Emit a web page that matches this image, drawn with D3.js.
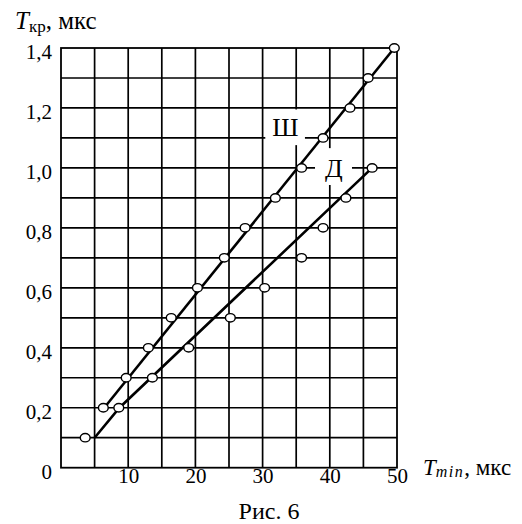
<!DOCTYPE html>
<html>
<head>
<meta charset="utf-8">
<script src="https://cdn.jsdelivr.net/npm/d3@7"></script>
<style>
  html, body { margin: 0; padding: 0; background: #fff; }
  svg text { font-family: "Liberation Serif", "DejaVu Serif", "Times New Roman", Times, serif; }
  .grid line { stroke: #000; stroke-width: 1.7; }
  .frame { fill: none; stroke: #000; stroke-width: 1.8; }
  .fit { fill: none; stroke: #000; stroke-width: 2.6; }
  .pt { fill: #fff; stroke: #000; stroke-width: 1.4; }
  .tick text { fill: #000; }
</style>
</head>
<body>
<svg id="chart" width="522" height="524"></svg>
<script>
// Рис. 6 — T_кр vs T_min, two series (Ш, Д).
const SH_X = [6.3, 9.7, 13.0, 16.4, 20.3, 24.3, 27.4, 31.9, 35.8, 39.0, 43.0, 45.7, 49.6];
const SH_Y = [0.2, 0.3, 0.4, 0.5, 0.6, 0.7, 0.8, 0.9, 1.0, 1.1, 1.2, 1.3, 1.4];
const D_X  = [3.6, 8.6, 13.6, 19.0, 25.2, 30.3, 35.8, 39.0, 42.4, 46.3];
const D_Y  = [0.1, 0.2, 0.3, 0.4, 0.5, 0.6, 0.7, 0.8, 0.9, 1.0];
// hand-drawn fit lines through the points
const SH_FIT = [[6.8, 0.21], [49.6, 1.4]];
const D_FIT  = [[5.0, 0.1], [8.7, 0.2], [46.3, 1.0]];
const X_TICKS = [10, 20, 30, 40, 50];
const Y_TICKS = [0, 0.2, 0.4, 0.6, 0.8, 1.0, 1.2, 1.4];
const SERIES_NAMES = ["Ш", "Д"];

const SERIF = '"Liberation Serif", "DejaVu Serif", "Times New Roman", Times, serif';
const svg = d3.select("#chart");
const x = d3.scaleLinear().domain([0, 50]).range([61, 397]);
const y = d3.scaleLinear().domain([0, 1.4]).range([467.7, 48]);

// grid: every 5 on x, every 0.1 on y
const grid = svg.append("g").attr("class", "grid");
grid.selectAll("line.v").data(d3.range(5, 50, 5)).enter().append("line")
  .attr("x1", d => x(d)).attr("x2", d => x(d)).attr("y1", y(0)).attr("y2", y(1.4));
grid.selectAll("line.h").data(d3.range(1, 14).map(i => i / 10)).enter().append("line")
  .attr("y1", d => y(d)).attr("y2", d => y(d)).attr("x1", x(0)).attr("x2", x(50));
svg.append("rect").attr("class", "frame")
  .attr("x", x(0)).attr("y", y(1.4)).attr("width", x(50) - x(0)).attr("height", y(0) - y(1.4));

// label boxes blank out the grid behind the series names
const LABEL_BOX = [
  {x0: 30.4, x1: 36.3, y0: 1.076, y1: 1.195, cx: 33.4, cy: 1.136},
  {x0: 37.8, x1: 43.3, y0: 0.943, y1: 1.066, cx: 40.6, cy: 1.0}
];
svg.append("g").selectAll("rect").data(LABEL_BOX).enter().append("rect")
  .attr("x", d => x(d.x0)).attr("y", d => y(d.y1))
  .attr("width", d => x(d.x1) - x(d.x0)).attr("height", d => y(d.y0) - y(d.y1))
  .attr("fill", "#fff");

// axes: only the labels, no domain/ticks
const fmt = v => v === 0 ? "0" : d3.format(".1f")(v).replace(".", ",");
const yAxis = svg.append("g").attr("transform", "translate(52,0)")
  .call(d3.axisLeft(y).tickValues(Y_TICKS).tickSize(0).tickPadding(0).tickFormat(fmt));
yAxis.attr("font-family", SERIF).attr("font-size", 21);
yAxis.select(".domain").remove();
yAxis.selectAll("text").attr("dy", null).attr("y", 10.5);

const xAxis = svg.append("g").attr("transform", "translate(0,483)")
  .call(d3.axisBottom(x).tickValues(X_TICKS).tickSize(0).tickPadding(0).tickFormat(d3.format("d")));
xAxis.attr("font-family", SERIF).attr("font-size", 21);
xAxis.select(".domain").remove();
xAxis.selectAll("text").attr("dy", null).attr("y", 0);

// fit lines
const line = d3.line().x(d => x(d[0])).y(d => y(d[1]));
svg.append("path").attr("class", "fit").attr("d", line(SH_FIT));
svg.append("path").attr("class", "fit").attr("d", line(D_FIT));

// points
const pts = svg.append("g");
[[SH_X, SH_Y], [D_X, D_Y]].forEach(([xs, ys]) => {
  pts.selectAll(null).data(xs.map((v, i) => [v, ys[i]])).enter().append("ellipse")
    .attr("class", "pt").attr("cx", d => x(d[0])).attr("cy", d => y(d[1]))
    .attr("rx", 4.9).attr("ry", 4.2);
});

// series names
svg.append("g").selectAll("text").data(LABEL_BOX).enter().append("text")
  .attr("x", d => x(d.cx)).attr("y", d => y(d.cy) + 9)
  .attr("text-anchor", "middle").attr("font-size", 26).attr("font-family", SERIF)
  .text((d, i) => SERIES_NAMES[i]);

// axis titles
const yt = svg.append("text").attr("x", 15).attr("y", 29).attr("font-size", 25).attr("font-family", SERIF);
yt.append("tspan").attr("font-style", "italic").text("T");
yt.append("tspan").attr("font-size", 17).attr("dy", 3).text("кр");
yt.append("tspan").attr("dy", -3).text(", мкс");

const xt = svg.append("text").attr("x", 423).attr("y", 475).attr("font-size", 23).attr("font-family", SERIF);
xt.append("tspan").attr("font-style", "italic").text("T");
xt.append("tspan").attr("font-style", "italic").attr("font-size", 16).attr("dy", 2)
  .attr("letter-spacing", 1.5).text("min");
xt.append("tspan").attr("dy", -2).text(", мкс");

svg.append("text").attr("x", 269).attr("y", 519).attr("text-anchor", "middle")
  .attr("font-size", 24).attr("font-family", SERIF).text("Рис. 6");
</script>
</body>
</html>
